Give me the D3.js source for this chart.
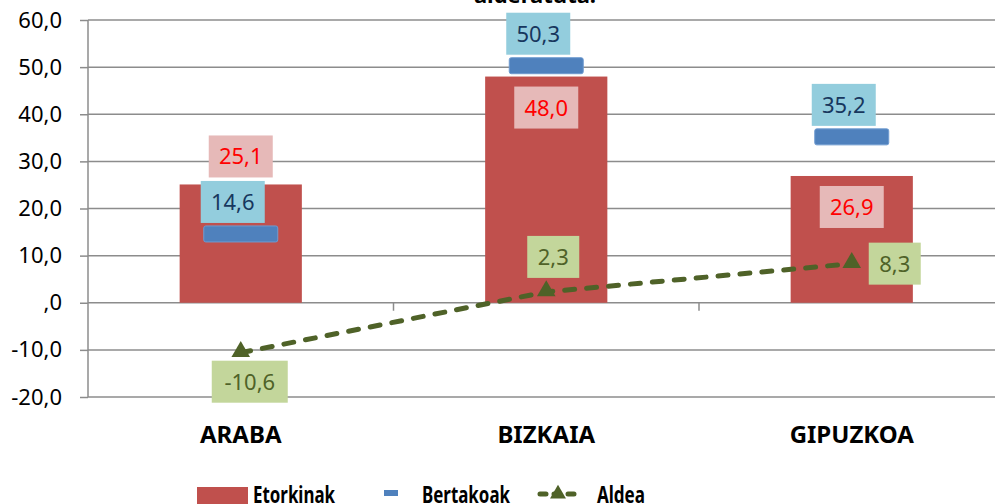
<!DOCTYPE html>
<html>
<head>
<meta charset="utf-8">
<script src="https://cdn.jsdelivr.net/npm/d3@7"></script>
<style>
  body { margin:0; background:#fff; }
  svg { font-family: "Noto Sans", "Open Sans", sans-serif; }
  .tick text { font-size:22px; fill:#000; }
</style>
</head>
<body>
<div id="chart"></div>
<script>
// data
const categories = ["ARABA", "BIZKAIA", "GIPUZKOA"];
const etorkinak = [25.1, 48.0, 26.9];
const bertakoak = [14.6, 50.3, 35.2];
const aldea = [-10.6, 2.3, 8.3];
const yTicks = [-20, -10, 0, 10, 20, 30, 40, 50, 60];
const seriesNames = ["Etorkinak", "Bertakoak", "Aldea"];

const W = 995, H = 504;
const red = "#C0504D", blue = "#4F81BD", olive = "#4F6228", grid = "#8c8c8c";

var svg = d3.select("#chart").append("svg").attr("width", W).attr("height", H);

var x = d3.scaleBand().domain(categories).range([88, 88 + 3*305.5]);
var y = d3.scaleLinear().domain([-20, 60]).range([397, 20]);
var loc = d3.formatLocale({decimal: ",", thousands: ".", grouping: [3], currency: ["", ""], minus: "-"});
var fmt = d => d === 0 ? ",0" : loc.format(".1f")(d);
var bw = x.bandwidth();

// title (top part cut off)
svg.append("text").attr("x", 535).attr("y", 3).attr("text-anchor","middle")
  .style("font-weight","bold").style("font-size","22px").text("alderatuta.");

// gridlines
svg.append("g").selectAll("line").data(yTicks).join("line")
  .attr("x1", 88).attr("x2", W).attr("y1", d=>y(d)).attr("y2", d=>y(d))
  .attr("stroke", grid).attr("stroke-width", 1.5);

// y axis
var yAxis = svg.append("g").attr("transform","translate(88,0)")
  .call(d3.axisLeft(y).tickValues(yTicks).tickFormat(fmt).tickSize(8).tickPadding(18));
yAxis.select(".domain").attr("stroke", grid).attr("stroke-width",1.5).attr("d","M0,"+y(60)+"V"+y(-20));
yAxis.selectAll(".tick line").attr("stroke", grid).attr("stroke-width",1.5);
yAxis.selectAll(".tick text").style("font-family",'"Noto Sans", sans-serif');

// category ticks on zero line
svg.append("g").selectAll("line").data(categories.slice(1)).join("line")
  .attr("x1", d=>x(d)).attr("x2", d=>x(d)).attr("y1", y(0)).attr("y2", y(0)+8)
  .attr("stroke", grid).attr("stroke-width",1.5);

// category labels
svg.append("g").selectAll("text").data(categories).join("text")
  .attr("x", d=>x(d)+bw/2).attr("y", 443).attr("text-anchor","middle")
  .style("font-weight","bold").style("font-size","24px").text(d=>d);

// bars
svg.append("g").selectAll("rect").data(etorkinak).join("rect")
  .attr("x", (d,i)=>x(categories[i])+bw*0.3).attr("width", bw*0.4)
  .attr("y", d=>y(d)).attr("height", d=>y(0)-y(d)).attr("fill", red);

// bertakoak dashes
svg.append("g").selectAll("rect").data(bertakoak).join("rect")
  .attr("x", (d,i)=>x(categories[i])+bw/2-37).attr("width", 74)
  .attr("y", d=>y(d)-8).attr("height", 16).attr("rx",2)
  .attr("fill", blue).attr("stroke","#6f9bd0").attr("stroke-width",1);

// aldea line
var line = d3.line().x((d,i)=>x(categories[i])+bw/2).y(d=>y(d));
svg.append("path").datum(aldea).attr("d", line).attr("fill","none")
  .attr("stroke", olive).attr("stroke-width",5).attr("stroke-dasharray","10,12")
  .attr("stroke-linecap","round");
svg.append("g").selectAll("path").data(aldea).join("path")
  .attr("d", d3.symbol(d3.symbolTriangle, 150))
  .attr("transform", (d,i)=>"translate("+(x(categories[i])+bw/2)+","+(y(d)-1)+")")
  .attr("fill", olive);

// data labels
function label(cx, cy, txt, bg, color, w){
  var g = svg.append("g");
  g.append("rect").attr("x", cx-w/2).attr("y", cy-21).attr("width", w).attr("height", 42).attr("fill", bg);
  g.append("text").attr("x", cx).attr("y", cy+8).attr("text-anchor","middle")
    .style("font-size","22px").attr("fill", color).text(txt);
}
var boxW = v => fmt(v).length*12 + 16;
// etorkinak labels: first above bar, others inside end
etorkinak.forEach(function(v,i){
  var cx = x(categories[i])+bw/2;
  var cy = i === 0 ? y(v)-28 : y(v)+31;
  label(cx, cy, fmt(v), "#E6B9B8", "#FF0000", boxW(v));
});
bertakoak.forEach(function(v,i){
  var cx = x(categories[i])+bw/2-8;
  label(cx, y(v)-32, fmt(v), "#93CDDD", "#17375E", boxW(v));
});
aldea.forEach(function(v,i){
  var cx = x(categories[i])+bw/2;
  var pos = [[9, 29], [7, -35], [43, 0]][i];
  label(cx+pos[0], y(v)+pos[1], fmt(v), "#C3D69B", olive, boxW(v));
});

// legend
var lg = svg.append("g").style("font-weight","bold").style("font-size","24px");
lg.append("rect").attr("x",197).attr("y",487).attr("width",51).attr("height",17).attr("fill",red);
lg.append("text").attr("x",253).attr("y",503).attr("textLength",82).attr("lengthAdjust","spacingAndGlyphs").text(seriesNames[0]);
lg.append("rect").attr("x",384).attr("y",490).attr("width",14).attr("height",6).attr("fill",blue);
lg.append("text").attr("x",422).attr("y",503).attr("textLength",88).attr("lengthAdjust","spacingAndGlyphs").text(seriesNames[1]);
lg.append("line").attr("x1",540).attr("x2",576).attr("y1",494).attr("y2",494)
  .attr("stroke",olive).attr("stroke-width",5).attr("stroke-dasharray","6,8").attr("stroke-linecap","round");
lg.append("path").attr("d", d3.symbol(d3.symbolTriangle, 110)).attr("transform","translate(558,494)").attr("fill",olive);
lg.append("text").attr("x",597).attr("y",503).attr("textLength",48).attr("lengthAdjust","spacingAndGlyphs").text(seriesNames[2]);
</script>
</body>
</html>
